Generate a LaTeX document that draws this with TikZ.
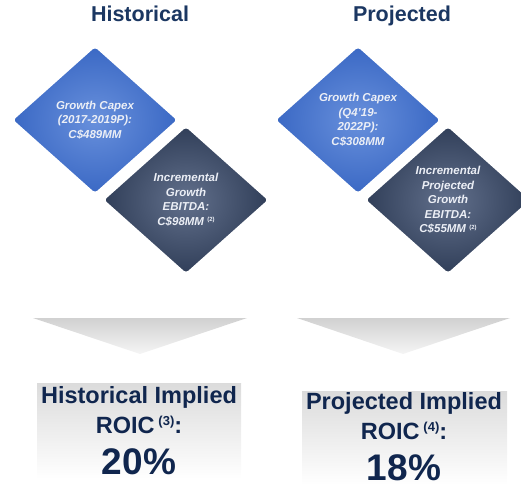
\documentclass[tikz,border=0pt]{standalone}
\usepackage{fontspec}
\setmainfont{Liberation Sans}
\usepackage{xcolor}
\usetikzlibrary{shapes.geometric}
\definecolor{titlenavy}{RGB}{27,55,98}
\definecolor{roicnavy}{RGB}{16,38,78}
\definecolor{capexcore}{RGB}{104,144,220}
\definecolor{capexedge}{RGB}{58,104,196}
\definecolor{ebitdacore}{RGB}{98,112,140}
\definecolor{ebitdaedge}{RGB}{48,62,88}
\definecolor{gemtext}{RGB}{236,239,246}

\begin{document}
\begin{tikzpicture}
[
    x=1pt,y=-1pt,
    heading/.style={anchor=base,text=titlenavy,font=\bfseries\fontsize{21.5}{24}\selectfont},
    gem/.style={diamond,rounded corners=4pt,minimum width=168pt,minimum height=150pt,inner sep=0pt,draw=white,line width=2.5pt,align=center,text=gemtext,font=\bfseries\itshape\fontsize{11.5}{14.5}\selectfont},
    capex/.style={gem,inner color=capexcore,outer color=capexedge},
    ebitda/.style={gem,inner color=ebitdacore,outer color=ebitdaedge},
    chevron/.style={top color=black!18,bottom color=black!4},
    roicshade/.style={top color=black!14,bottom color=white},
    roic/.style={anchor=base,inner sep=1pt,text=roicnavy,font=\bfseries\fontsize{23.5}{26}\selectfont},
    pct/.style={anchor=base,inner sep=0pt,text=roicnavy,font=\bfseries\fontsize{37}{40}\selectfont}
]
\useasboundingbox (0,0) rectangle (521,487);

\node (histtitle) at (140,22) [heading] {Historical};
\node (projtitle) at (402,22) [heading] {Projected};

% diamonds
\node (histcapex) at (95,120) [capex] {Growth Capex\\(2017-2019P):\\C\$489MM};
\node (histebitda) at (186,200) [ebitda] {Incremental\\Growth\\EBITDA:\\C\$98MM \raisebox{3.5pt}{\upshape\fontsize{6}{6}\selectfont(2)}};
\node (projcapex) at (358,120) [capex] {Growth Capex\\(Q4'19-\\2022P):\\C\$308MM};
\node (projebitda) at (448,200) [ebitda] {Incremental\\Projected\\Growth\\EBITDA:\\C\$55MM \raisebox{3.5pt}{\upshape\fontsize{6}{6}\selectfont(2)}};

% chevrons
\shade[chevron] (33,318) -- (247,318) -- (140,354) -- cycle;
\shade[chevron] (297,318) -- (510,318) -- (403,354) -- cycle;

% ROIC boxes
\shade[roicshade] (37,383) rectangle (241,479);
\shade[roicshade] (302,391) rectangle (507,485);

\node (histlabel) at (139,403) [roic] {Historical Implied};
\node (histroic) at (139,433) [roic] {ROIC\,\raisebox{8pt}{\fontsize{13}{13}\selectfont(3)}:};
\node (histpct) at (139,474) [pct] {20\%};

\node (projlabel) at (404,409) [roic] {Projected Implied};
\node (projroic) at (404,439) [roic] {ROIC\,\raisebox{8pt}{\fontsize{13}{13}\selectfont(4)}:};
\node (projpct) at (404,480) [pct] {18\%};

\end{tikzpicture}
\end{document}
